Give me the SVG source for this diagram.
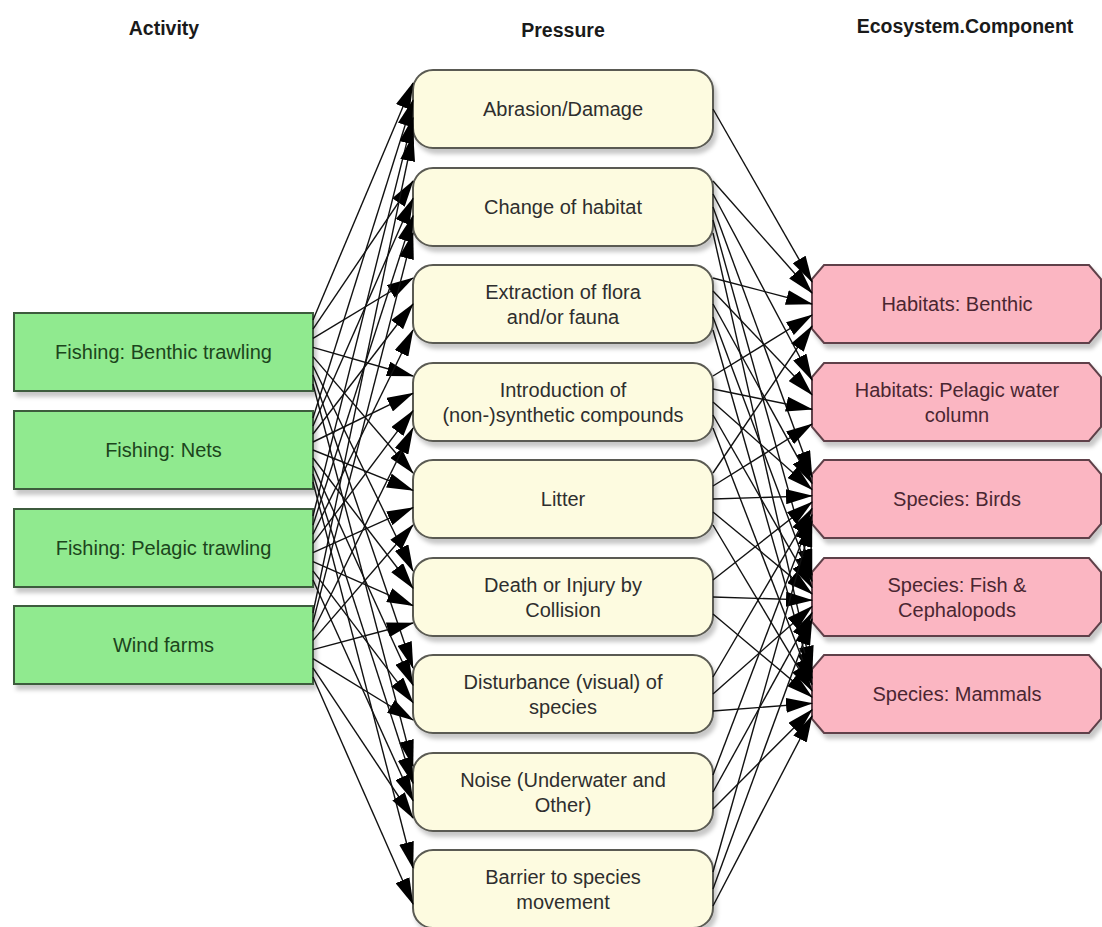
<svg xmlns="http://www.w3.org/2000/svg" width="1102" height="927" viewBox="0 0 1102 927">
  <style>
    .hdr { font-family: "Liberation Sans", Arial, sans-serif; font-size: 19.5px; font-weight: bold; fill: #1a1a1a; text-anchor: middle; }
    .lbl { font-family: "Liberation Sans", Arial, sans-serif; font-size: 20px; text-anchor: middle; }
    .act rect { fill: #90ea8f; stroke: #3e5c3e; stroke-width: 2; filter: url(#shadow); }
    .act text { fill: #1c451c; }
    .prs rect { fill: #fdfbe0; stroke: #5a5a52; stroke-width: 2; filter: url(#shadow); }
    .prs text { fill: #2e2e2e; }
    .cmp polygon { fill: #fbb6c2; stroke: #5e4048; stroke-width: 2; filter: url(#shadow); }
    .cmp text { fill: #4a2631; }
    #edges line { stroke: #111; stroke-width: 1.4; marker-end: url(#ah); }
  </style>
  <defs>
    <filter id="shadow" x="-5%" y="-10%" width="115%" height="130%">
      <feDropShadow dx="3" dy="5" stdDeviation="2" flood-color="#000" flood-opacity="0.22"/>
    </filter>
    <marker id="ah" viewBox="0 0 27 15" refX="26" refY="7.5" markerWidth="27" markerHeight="15" markerUnits="userSpaceOnUse" orient="auto">
      <path d="M0,0 L27,7.5 L0,15 z" fill="#000"/>
    </marker>
  </defs>

  <rect width="1102" height="927" fill="#fff"/>

  <!-- column headings -->
  <g id="headers">
    <text class="hdr" x="164" y="35">Activity</text>
    <text class="hdr" x="563" y="37">Pressure</text>
    <text class="hdr" x="965" y="33">Ecosystem.Component</text>
  </g>

  <!-- activities -->
  <g id="act-benthic" class="act"><rect x="14" y="313" width="299" height="78"/><text class="lbl" x="163.5" y="359">Fishing: Benthic trawling</text></g>
  <g id="act-nets" class="act"><rect x="14" y="411" width="299" height="78"/><text class="lbl" x="163.5" y="457">Fishing: Nets</text></g>
  <g id="act-pelagic" class="act"><rect x="14" y="509" width="299" height="78"/><text class="lbl" x="163.5" y="555">Fishing: Pelagic trawling</text></g>
  <g id="act-wind" class="act"><rect x="14" y="606" width="299" height="78"/><text class="lbl" x="163.5" y="652">Wind farms</text></g>

  <!-- pressures -->
  <g id="prs-abrasion" class="prs"><rect x="413" y="70" width="300" height="78" rx="20"/><text class="lbl" x="563" y="116">Abrasion/Damage</text></g>
  <g id="prs-habitat" class="prs"><rect x="413" y="168" width="300" height="78" rx="20"/><text class="lbl" x="563" y="214">Change of habitat</text></g>
  <g id="prs-extraction" class="prs"><rect x="413" y="265" width="300" height="78" rx="20"/><text class="lbl" x="563" y="298.5">Extraction of flora</text><text class="lbl" x="563" y="323.5">and/or fauna</text></g>
  <g id="prs-compounds" class="prs"><rect x="413" y="363" width="300" height="78" rx="20"/><text class="lbl" x="563" y="396.5">Introduction of</text><text class="lbl" x="563" y="421.5">(non-)synthetic compounds</text></g>
  <g id="prs-litter" class="prs"><rect x="413" y="460" width="300" height="78" rx="20"/><text class="lbl" x="563" y="506">Litter</text></g>
  <g id="prs-collision" class="prs"><rect x="413" y="558" width="300" height="78" rx="20"/><text class="lbl" x="563" y="591.5">Death or Injury by</text><text class="lbl" x="563" y="616.5">Collision</text></g>
  <g id="prs-disturbance" class="prs"><rect x="413" y="655" width="300" height="78" rx="20"/><text class="lbl" x="563" y="688.5">Disturbance (visual) of</text><text class="lbl" x="563" y="713.5">species</text></g>
  <g id="prs-noise" class="prs"><rect x="413" y="753" width="300" height="78" rx="20"/><text class="lbl" x="563" y="786.5">Noise (Underwater and</text><text class="lbl" x="563" y="811.5">Other)</text></g>
  <g id="prs-barrier" class="prs"><rect x="413" y="850" width="300" height="78" rx="20"/><text class="lbl" x="563" y="883.5">Barrier to species</text><text class="lbl" x="563" y="908.5">movement</text></g>

  <!-- ecosystem components -->
  <g id="cmp-benthic" class="cmp"><polygon points="824,265 1089,265 1101,279 1101,329 1089,343 824,343 812,329 812,279"/><text class="lbl" x="957" y="311">Habitats: Benthic</text></g>
  <g id="cmp-pelagic" class="cmp"><polygon points="824,363 1089,363 1101,377 1101,427 1089,441 824,441 812,427 812,377"/><text class="lbl" x="957" y="396.5">Habitats: Pelagic water</text><text class="lbl" x="957" y="421.5">column</text></g>
  <g id="cmp-birds" class="cmp"><polygon points="824,460 1089,460 1101,474 1101,524 1089,538 824,538 812,524 812,474"/><text class="lbl" x="957" y="506">Species: Birds</text></g>
  <g id="cmp-fish" class="cmp"><polygon points="824,558 1089,558 1101,572 1101,622 1089,636 824,636 812,622 812,572"/><text class="lbl" x="957" y="591.5">Species: Fish &amp;</text><text class="lbl" x="957" y="616.5">Cephalopods</text></g>
  <g id="cmp-mammals" class="cmp"><polygon points="824,655 1089,655 1101,669 1101,719 1089,733 824,733 812,719 812,669"/><text class="lbl" x="957" y="701">Species: Mammals</text></g>

  <!-- activity -> pressure and pressure -> component links -->
  <g id="edges">
    <!-- Fishing: Benthic trawling -->
    <line x1="313" y1="320" x2="413" y2="83"/>
    <line x1="313" y1="329.1" x2="413" y2="181"/>
    <line x1="313" y1="338.3" x2="413" y2="278"/>
    <line x1="313" y1="347.4" x2="413" y2="376"/>
    <line x1="313" y1="356.6" x2="413" y2="473"/>
    <line x1="313" y1="365.7" x2="413" y2="571"/>
    <line x1="313" y1="374.9" x2="413" y2="668"/>
    <line x1="313" y1="384" x2="413" y2="766"/>
    <!-- Fishing: Nets -->
    <line x1="313" y1="418" x2="413" y2="100.3"/>
    <line x1="313" y1="426" x2="413" y2="198.3"/>
    <line x1="313" y1="434" x2="413" y2="304"/>
    <line x1="313" y1="442" x2="413" y2="393.3"/>
    <line x1="313" y1="450" x2="413" y2="490.3"/>
    <line x1="313" y1="458" x2="413" y2="588.3"/>
    <line x1="313" y1="466" x2="413" y2="685.3"/>
    <line x1="313" y1="474" x2="413" y2="783.3"/>
    <line x1="313" y1="482" x2="413" y2="868"/>
    <!-- Fishing: Pelagic trawling -->
    <line x1="313" y1="516" x2="413" y2="117.7"/>
    <line x1="313" y1="525.1" x2="413" y2="215.7"/>
    <line x1="313" y1="534.3" x2="413" y2="330"/>
    <line x1="313" y1="543.4" x2="413" y2="410.7"/>
    <line x1="313" y1="552.6" x2="413" y2="507.7"/>
    <line x1="313" y1="561.7" x2="413" y2="605.7"/>
    <line x1="313" y1="570.9" x2="413" y2="702.7"/>
    <line x1="313" y1="580" x2="413" y2="800.7"/>
    <!-- Wind farms -->
    <line x1="313" y1="613" x2="413" y2="135"/>
    <line x1="313" y1="622.1" x2="413" y2="233"/>
    <line x1="313" y1="631.3" x2="413" y2="428"/>
    <line x1="313" y1="640.4" x2="413" y2="525"/>
    <line x1="313" y1="649.6" x2="413" y2="623"/>
    <line x1="313" y1="658.7" x2="413" y2="720"/>
    <line x1="313" y1="667.9" x2="413" y2="818"/>
    <line x1="313" y1="677" x2="413" y2="904"/>

    <!-- pressures to components -->
    <line x1="713" y1="109" x2="812" y2="282"/>
    <line x1="713" y1="181" x2="812" y2="293"/>
    <line x1="713" y1="194" x2="812" y2="380"/>
    <line x1="713" y1="207" x2="812" y2="477"/>
    <line x1="713" y1="220" x2="812" y2="575"/>
    <line x1="713" y1="233" x2="812" y2="672"/>
    <line x1="713" y1="278" x2="812" y2="304"/>
    <line x1="713" y1="291" x2="812" y2="394.7"/>
    <line x1="713" y1="304" x2="812" y2="483.3"/>
    <line x1="713" y1="317" x2="812" y2="581.3"/>
    <line x1="713" y1="330" x2="812" y2="678.3"/>
    <line x1="713" y1="376" x2="812" y2="315"/>
    <line x1="713" y1="389" x2="812" y2="409.3"/>
    <line x1="713" y1="402" x2="812" y2="489.6"/>
    <line x1="713" y1="415" x2="812" y2="587.6"/>
    <line x1="713" y1="428" x2="812" y2="684.6"/>
    <line x1="713" y1="473" x2="812" y2="326"/>
    <line x1="713" y1="486" x2="812" y2="424"/>
    <line x1="713" y1="499" x2="812" y2="495.9"/>
    <line x1="713" y1="512" x2="812" y2="593.9"/>
    <line x1="713" y1="525" x2="812" y2="690.9"/>
    <line x1="713" y1="580" x2="812" y2="502.1"/>
    <line x1="713" y1="597" x2="812" y2="600.1"/>
    <line x1="713" y1="614" x2="812" y2="697.1"/>
    <line x1="713" y1="677" x2="812" y2="508.4"/>
    <line x1="713" y1="694" x2="812" y2="606.4"/>
    <line x1="713" y1="711" x2="812" y2="703.4"/>
    <line x1="713" y1="775" x2="812" y2="514.7"/>
    <line x1="713" y1="792" x2="812" y2="612.7"/>
    <line x1="713" y1="809" x2="812" y2="709.7"/>
    <line x1="713" y1="872" x2="812" y2="521"/>
    <line x1="713" y1="889" x2="812" y2="619"/>
    <line x1="713" y1="906" x2="812" y2="716"/>
  </g>
</svg>
